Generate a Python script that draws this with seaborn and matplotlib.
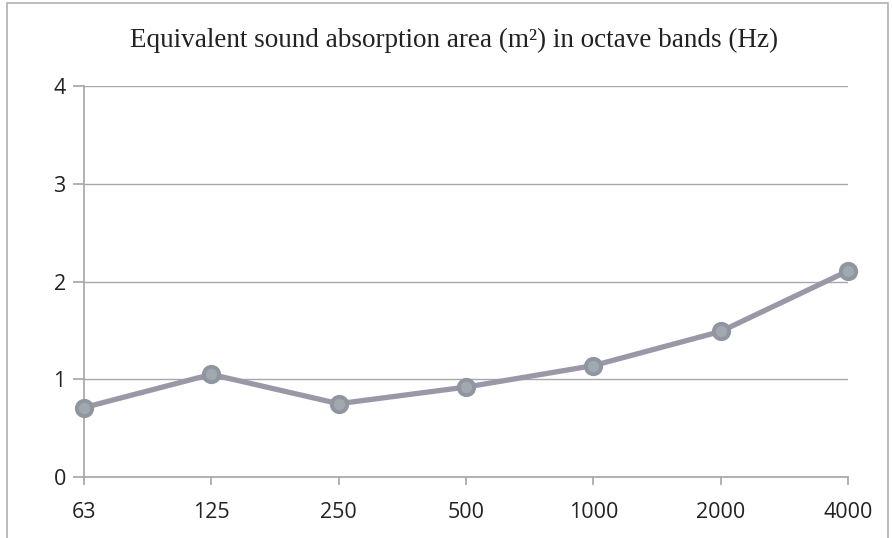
import matplotlib
matplotlib.use('Agg')
import matplotlib.pyplot as plt
import pandas as pd
import seaborn as sns
from matplotlib.patches import Rectangle

bands = ['63', '125', '250', '500', '1000', '2000', '4000']
area = [0.71, 1.05, 0.75, 0.92, 1.14, 1.49, 2.11]

df = pd.DataFrame({'band': bands, 'area': area})

sns.set_theme(style='white')
plt.rcParams['font.family'] = ['Open Sans', 'DejaVu Sans']

fig = plt.figure(figsize=(8.92, 5.38), dpi=100)
ax = fig.add_axes([0.094, 0.1134, 0.857, 0.7266])

ax.set_ylim(0, 4)
ax.set_yticks([0, 1, 2, 3, 4])
ax.yaxis.grid(True, color='#a8a8ac', linewidth=1.0)
ax.set_axisbelow(True)

sns.pointplot(
  data=df,
  x='band',
  y='area',
  order=bands,
  color='#9c97a6',
  linewidth=3.8,
  markers='o',
  markersize=11,
  ax=ax,
  zorder=3
)
for coll in ax.collections:
  coll.set_facecolor('#a2a8b0')
  coll.set_edgecolor('#8f96a0')
  coll.set_clip_on(False)
for ln in ax.lines:
  ln.set_markerfacecolor('#a2a8b0')
  ln.set_markeredgecolor('#8f96a0')
  ln.set_clip_on(False)

ax.set_xlim(0, 6)
ax.set_xlabel('')
ax.set_ylabel('')
for s in ['top', 'right']:
  ax.spines[s].set_visible(False)
ax.spines['left'].set_color('#a8a8ac')
ax.spines['bottom'].set_color('#a8a8ac')
ax.tick_params(axis='x', length=6, color='#a8a8ac', labelsize=15.5, pad=12, colors='#222222')
ax.tick_params(axis='y', length=8, color='#a8a8ac', labelsize=15.5, pad=5, colors='#222222')
ax.tick_params(axis='x', bottom=True)
ax.tick_params(axis='y', left=True)

fig.text(0.509, 0.925, 'Equivalent sound absorption area (m²) in octave bands (Hz)',
         ha='center', va='center', fontsize=19.5, family='Liberation Serif', color='#222222')

fig.patches.append(Rectangle((0.008, -0.01), 0.988, 1.004, transform=fig.transFigure,
                             fill=False, edgecolor='#b0b0b0', linewidth=1.2))

fig.savefig('out.png', dpi=100)
